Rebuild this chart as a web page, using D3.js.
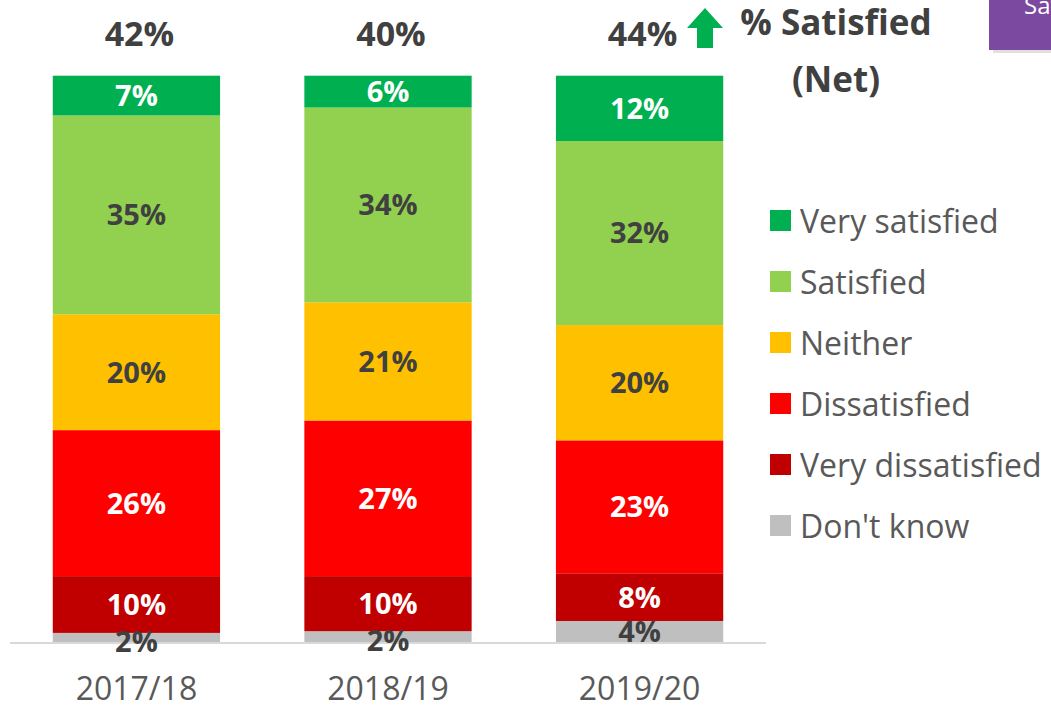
<!DOCTYPE html>
<html>
<head>
<meta charset="utf-8">
<script src="https://cdn.jsdelivr.net/npm/d3@7"></script>
<style>
  body { margin: 0; background: #fff; }
  svg { display: block; }
</style>
</head>
<body>
<svg id="chart" width="1051" height="710"></svg>
<script>
// data
var years = ["2017/18", "2018/19", "2019/20"];
var categories = ["Very satisfied", "Satisfied", "Neither", "Dissatisfied", "Very dissatisfied", "Don't know"];
var verySatisfied = [7.0, 5.6, 11.5];
var satisfied = [35.0, 34.3, 32.4];
var neither = [20.4, 20.8, 20.3];
var dissatisfied = [25.7, 27.4, 23.4];
var veryDissatisfied = [10.0, 9.7, 8.4];
var dontKnow = [1.6, 1.9, 3.7];
var netSatisfied = [42, 40, 44];

var colors = ["#00B050", "#92D050", "#FFC000", "#FF0000", "#C00000", "#BFBFBF"];
var labelColors = ["#fff", "#404040", "#404040", "#fff", "#fff", "#404040"];

var keys = ["dk", "vd", "d", "n", "s", "vs"]; // stacked from the bottom
var keyIndex = { vs: 0, s: 1, n: 2, d: 3, vd: 4, dk: 5 };

var rows = years.map(function(y, i) {
  return { year: y, vs: verySatisfied[i], s: satisfied[i], n: neither[i],
           d: dissatisfied[i], vd: veryDissatisfied[i], dk: dontKnow[i] };
});

var svg = d3.select("#chart");
var fontB = "'Open Sans', 'Noto Sans', sans-serif";

var x = d3.scaleBand().domain(years).range([10, 766]).paddingInner(0.335).paddingOuter(0.17);
var y = d3.scaleLinear().domain([0, 100]).range([642, 74]);

var series = d3.stack().keys(keys)(rows);

// baseline (under the labels)
svg.append("line")
  .attr("x1", 10).attr("x2", 766)
  .attr("y1", 643).attr("y2", 643)
  .attr("stroke", "#d9d9d9").attr("stroke-width", 2);

var g = svg.append("g");

var layer = g.selectAll("g.layer")
  .data(series)
  .enter().append("g")
  .attr("class", "layer")
  .attr("fill", function(d) { return colors[keyIndex[d.key]]; });

layer.selectAll("rect")
  .data(function(d) { return d; })
  .enter().append("rect")
  .attr("x", function(d) { return x(d.data.year); })
  .attr("width", x.bandwidth())
  .attr("y", function(d) { return y(d[1]); })
  .attr("height", function(d) { return y(d[0]) - y(d[1]); });

// segment labels
series.forEach(function(s) {
  var k = keyIndex[s.key];
  g.selectAll(null)
    .data(s)
    .enter().append("text")
    .attr("x", function(d) { return x(d.data.year) + x.bandwidth() / 2; })
    .attr("y", function(d) {
      var mid = (y(d[0]) + y(d[1])) / 2;
      if (s.key == "dk" && d[1] - d[0] < 3) mid += 4;
      return mid;
    })
    .attr("dy", "0.36em")
    .attr("text-anchor", "middle")
    .attr("font-family", fontB)
    .attr("font-weight", "bold")
    .attr("font-size", 29)
    .attr("fill", labelColors[k])
    .text(function(d) { return Math.round(d[1] - d[0]) + "%"; });
});

// net satisfied totals above bars
svg.selectAll("text.net")
  .data(years)
  .enter().append("text")
  .attr("class", "net")
  .attr("x", function(d) { return x(d) + x.bandwidth() / 2 + 3; })
  .attr("y", 46)
  .attr("text-anchor", "middle")
  .attr("font-family", fontB)
  .attr("font-weight", "bold")
  .attr("font-size", 34)
  .attr("fill", "#404040")
  .text(function(d, i) { return netSatisfied[i] + "%"; });

// up arrow next to latest year
svg.append("path")
  .attr("d", "M705,8 L723,28 L713,28 L713,48 L697,48 L697,28 L687,28 Z")
  .attr("fill", "#00B050");

// "% Satisfied (Net)" heading
var head = svg.append("text")
  .attr("font-family", fontB)
  .attr("font-weight", "bold")
  .attr("font-size", 35)
  .attr("fill", "#404040")
  .attr("text-anchor", "middle");
head.append("tspan").attr("x", 836).attr("y", 35).text("% Satisfied");
head.append("tspan").attr("x", 836).attr("y", 92).text("(Net)");

// year labels
svg.selectAll("text.year")
  .data(years)
  .enter().append("text")
  .attr("class", "year")
  .attr("x", function(d) { return x(d) + x.bandwidth() / 2; })
  .attr("y", 700)
  .attr("text-anchor", "middle")
  .attr("font-family", "'Open Sans', 'Noto Sans', sans-serif")
  .attr("font-size", 32)
  .attr("fill", "#595959")
  .text(function(d) { return d; });

// legend
var leg = svg.selectAll("g.leg")
  .data(categories)
  .enter().append("g")
  .attr("class", "leg")
  .attr("transform", function(d, i) { return "translate(770," + (210 + i * 61) + ")"; });

leg.append("rect")
  .attr("width", 21).attr("height", 21)
  .attr("fill", function(d, i) { return colors[i]; });

leg.append("text")
  .attr("x", 30).attr("y", 11)
  .attr("dy", "0.36em")
  .attr("font-family", "'Open Sans', 'Noto Sans', sans-serif")
  .attr("font-size", 32)
  .attr("fill", "#595959")
  .text(function(d) { return d; });

// purple tag in the corner (cut off by the edge)
svg.append("rect")
  .attr("x", 993).attr("y", 3).attr("width", 70).attr("height", 50)
  .attr("fill", "#000").attr("opacity", 0.12);
svg.append("rect")
  .attr("x", 989).attr("y", -2).attr("width", 70).attr("height", 52)
  .attr("fill", "#7B4AA0");
svg.append("text")
  .attr("x", 1024).attr("y", 14)
  .attr("font-family", "'Open Sans', sans-serif")
  .attr("font-size", 24)
  .attr("fill", "#fff")
  .text("Satisfaction");
</script>
</body>
</html>
